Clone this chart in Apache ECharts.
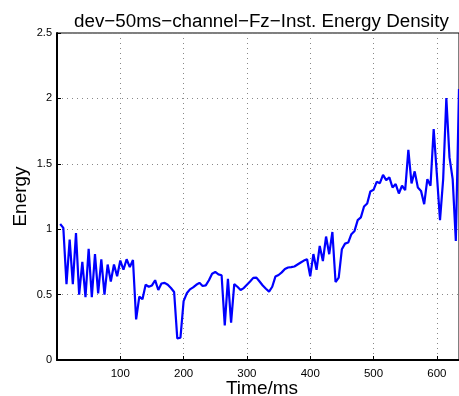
<!DOCTYPE html>
<html>
<head>
<meta charset="utf-8">
<script src="https://cdn.jsdelivr.net/npm/echarts@6/dist/echarts.min.js"></script>
<style>html,body{margin:0;padding:0;background:#fff;}#c{width:459px;height:396px;}</style>
</head>
<body>
<div id="c"></div>
<script>
const titleText = 'dev\u221250ms\u2212channel\u2212Fz\u2212Inst. Energy Density';
const xName = 'Time/ms';
const yName = 'Energy';
const timeStart = 5;
const timeStep = 5;
const energy = [
  1.04, 1.01, 0.58, 0.92, 0.58, 0.97, 0.50, 0.75, 0.48, 0.85,
  0.48, 0.81, 0.51, 0.77, 0.50, 0.73, 0.60, 0.73, 0.64, 0.76,
  0.69, 0.77, 0.71, 0.765, 0.31, 0.485, 0.465, 0.575, 0.56, 0.57,
  0.61, 0.535, 0.585, 0.59, 0.575, 0.55, 0.52, 0.165, 0.17, 0.45,
  0.51, 0.54, 0.555, 0.575, 0.59, 0.566, 0.57, 0.61, 0.66, 0.673,
  0.655, 0.648, 0.265, 0.62, 0.286, 0.58, 0.56, 0.535, 0.55, 0.575,
  0.60, 0.628, 0.63, 0.60, 0.57, 0.545, 0.523, 0.56, 0.638, 0.65,
  0.67, 0.695, 0.707, 0.71, 0.715, 0.73, 0.745, 0.76, 0.77, 0.64,
  0.81, 0.69, 0.872, 0.757, 0.944, 0.809, 0.979, 0.596, 0.63, 0.847,
  0.89, 0.898, 0.962, 0.987, 1.069, 1.09, 1.174, 1.197, 1.289, 1.301,
  1.362, 1.352, 1.415, 1.375, 1.396, 1.319, 1.345, 1.273, 1.332, 1.299,
  1.607, 1.35, 1.442, 1.319, 1.293, 1.191, 1.383, 1.332, 1.766, 1.421,
  1.069, 1.383, 2.003, 1.549, 1.383, 0.91, 2.072
];
const times = energy.map((_, i) => timeStart + i * timeStep);
const points = times.map((t, i) => [t, energy[i]]);

const chart = echarts.init(document.getElementById('c'), null, {renderer: 'canvas'});
const font = 'Liberation Sans, Arial, Helvetica, sans-serif';
chart.setOption({
  animation: false,
  backgroundColor: '#fff',
  title: {
    text: titleText, left: 69, top: 7,
    textStyle: {fontFamily: font, fontSize: 18.8, fontWeight: 'normal', color: '#000'}
  },
  grid: {left: 57, right: 0, top: 33, bottom: 36, containLabel: false,
         outerBoundsMode: 'none',
         show: true, borderColor: '#000', borderWidth: 1},
  xAxis: {
    type: 'value', min: 0, max: 635, interval: 100,
    name: xName, nameLocation: 'middle', nameGap: 19, nameMoveOverlap: false,
    nameTextStyle: {fontFamily: font, fontSize: 19, color: '#000', padding: [0, 0, 0, 8]},
    axisLine: {onZero: false, lineStyle: {color: '#000', width: 2}},
    axisTick: {inside: true, length: 4, lineStyle: {color: '#000'}},
    axisLabel: {showMinLabel: false, showMaxLabel: false, fontFamily: font, fontSize: 11.5, color: '#000', margin: 8},
    splitLine: {show: true, lineStyle: {color: '#888', type: [1, 4], width: 1}}
  },
  yAxis: {
    type: 'value', min: 0, max: 2.5, interval: 0.5,
    name: yName, nameLocation: 'middle', nameGap: 27, nameRotate: 90, nameMoveOverlap: false,
    nameTextStyle: {fontFamily: font, fontSize: 19, color: '#000'},
    axisLine: {onZero: false, lineStyle: {color: '#000', width: 2}},
    axisTick: {inside: true, length: 4, lineStyle: {color: '#000'}},
    axisLabel: {fontFamily: font, fontSize: 11, color: '#000', margin: 5,
                formatter: v => String(v)},
    splitLine: {show: true, lineStyle: {color: '#888', type: [1, 4], width: 1}}
  },
  series: [{
    type: 'line', data: points, showSymbol: false, symbol: 'none',
    lineStyle: {color: '#0000ff', width: 2.2}, clip: true
  }]
});
</script>
</body>
</html>
